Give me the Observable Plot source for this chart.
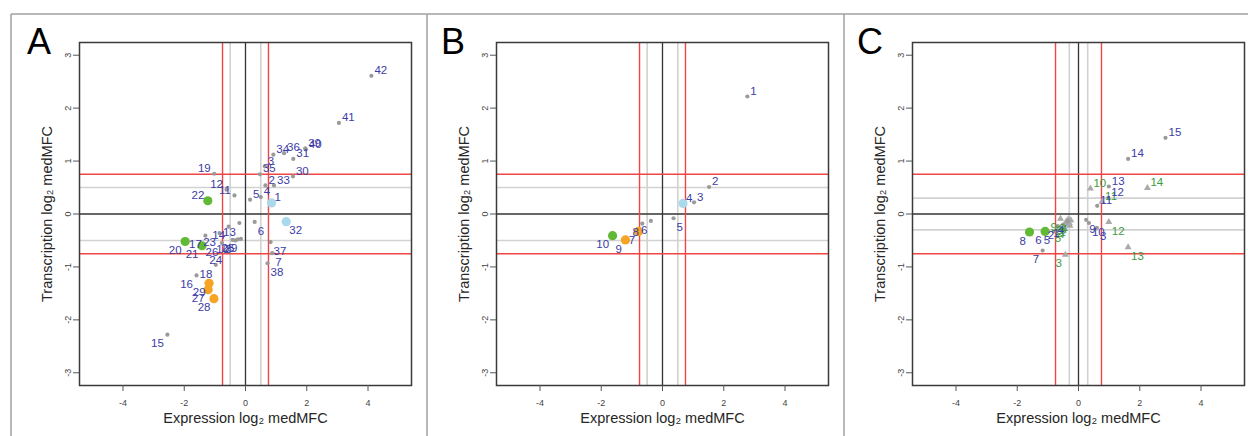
<!DOCTYPE html>
<html>
<head>
<meta charset="utf-8">
<script src="https://cdn.jsdelivr.net/npm/d3@7"></script>
<script src="https://cdn.jsdelivr.net/npm/@observablehq/plot@0.6"></script>
<style>
  html, body { margin: 0; padding: 0; background: #fff; }
  #fig { position: relative; width: 1248px; height: 436px; overflow: hidden; font-family: "Liberation Sans", Arial, sans-serif; }
  .panel { position: absolute; top: 0; }
  #overlay { position: absolute; left: 0; top: 0; pointer-events: none; }
</style>
</head>
<body>
<div id="fig">
  <div class="panel" id="pA" style="left:-1px"></div>
  <div class="panel" id="pB" style="left:416px"></div>
  <div class="panel" id="pC" style="left:832px"></div>
  <svg id="overlay" width="1248" height="436">
    <g stroke="#a0a0a0" stroke-width="1.5" fill="none">
      <line x1="11" y1="14" x2="1248" y2="14"></line>
      <line x1="11" y1="14" x2="11" y2="436"></line>
      <line x1="427" y1="14" x2="427" y2="436"></line>
      <line x1="844" y1="14" x2="844" y2="436"></line>
    </g>
    <g font-family="Liberation Sans, Arial, sans-serif" font-size="36" fill="#000">
      <text x="27" y="53.5">A</text>
      <text x="441" y="53.5">B</text>
      <text x="857" y="53.5">C</text>
    </g>
  </svg>
</div>
<script>
// ---------- axis ticks ----------
const xTicks = [-4, -2, 0, 2, 4];
const yTicks = [-3, -2, -1, 0, 1, 2, 3];

// ---------- cut-off lines ----------
const redCut = 0.75;
const grayCutAB = 0.5;
const grayCutC = 0.3;

// ---------- Panel A ----------
const aLabel = [1,2,3,4,5,6,7,8,9,10,11,12,13,14,15,16,17,18,19,20,21,22,23,24,25,26,27,28,29,30,31,32,33,34,35,36,37,38,39,40,41,42];
const aX = [0.85,0.65,0.63,0.50,0.15,0.30,0.87,-0.33,-0.15,-0.42,-0.36,-0.62,-0.20,-0.55,-2.55,-1.60,-1.31,-0.97,-1.02,-1.97,-1.42,-1.23,-0.85,-0.65,-0.25,-0.77,-1.22,-1.03,-1.19,1.55,1.56,1.33,0.93,0.91,0.47,1.26,0.82,0.72,1.95,1.97,3.05,4.11];
const aY = [0.21,0.54,0.90,0.32,0.27,-0.15,-0.74,-0.50,-0.47,-0.49,0.35,0.46,-0.17,-0.24,-2.28,-1.16,-0.41,-0.96,0.76,-0.52,-0.60,0.25,-0.36,-0.71,-0.48,-0.55,-1.43,-1.60,-1.31,0.71,1.04,-0.145,0.54,1.12,0.75,1.15,-0.53,-0.93,1.24,1.22,1.72,2.61];
const aClass = ["lightblue","ns","ns","ns","ns","ns","ns","ns","ns","ns","ns","ns","ns","ns","ns","ns","ns","ns","ns","green","green","green","ns","ns","ns","ns","orange","orange","orange","ns","ns","lightblue","ns","ns","ns","ns","ns","ns","ns","ns","ns","ns"];

// ---------- Panel B ----------
const bLabel = [1,2,3,4,5,6,7,8,9,10];
const bX = [2.77,1.52,1.03,0.67,0.36,-0.38,-0.78,-0.66,-1.21,-1.63];
const bY = [2.22,0.51,0.22,0.20,-0.08,-0.13,-0.33,-0.18,-0.49,-0.41];
const bClass = ["ns","ns","ns","lightblue","ns","ns","orange","ns","orange","green"];

// ---------- Panel C (circles, blue labels) ----------
const cLabel = [1,2,3,4,5,6,7,8,9,10,11,12,13,14,15];
const cX = [-0.50,-0.68,0.60,-0.35,-0.81,-1.09,-1.17,-1.60,0.25,0.34,0.61,0.97,0.99,1.62,2.84];
const cY = [-0.20,-0.23,-0.26,-0.14,-0.33,-0.33,-0.69,-0.34,-0.11,-0.17,0.155,0.30,0.52,1.04,1.44];
const cClass = ["ns","ns","ns","ns","ns","green","ns","green","ns","ns","ns","ns","ns","ns","ns"];

// ---------- Panel C (triangles, green labels) ----------
const tLabel = [1,2,3,4,5,6,7,8,9,10,11,12,13,14];
const tX = [-0.30,-0.38,-0.43,-0.25,-0.45,-0.33,-0.28,-0.40,-0.59,0.39,0.77,0.99,1.62,2.25];
const tY = [-0.17,-0.20,-0.77,-0.12,-0.28,-0.10,-0.22,-0.14,-0.09,0.48,0.23,-0.15,-0.63,0.49];

const classColor = {lightblue: "#a9d9ea", green: "#62b935", orange: "#f7a323"};
const blueText = "#3c3ca6";
const greenText = "#3d9a3d";

function rows(labels, xs, ys, cls) {
  return labels.map((l, i) => ({label: String(l), x: xs[i], y: ys[i], cls: cls ? cls[i] : "ns"}));
}

function labelMarks(data, fill) {
  const common = {x: "x", y: "y", text: "label", fill, fontSize: 11.5, fontFamily: "Liberation Sans, Arial, sans-serif"};
  return [
    Plot.text(data.filter(d => d.x >= 0 && d.y >= 0), {...common, textAnchor: "start", dx: 3, dy: -5.5}),
    Plot.text(data.filter(d => d.x < 0 && d.y >= 0), {...common, textAnchor: "end", dx: -3.5, dy: -5.5}),
    Plot.text(data.filter(d => d.x >= 0 && d.y < 0), {...common, textAnchor: "start", dx: 3, dy: 9}),
    Plot.text(data.filter(d => d.x < 0 && d.y < 0), {...common, textAnchor: "end", dx: -3.5, dy: 9})
  ];
}

function panel(grayCut, circles, triangles) {
  const marks = [
    Plot.ruleX([-grayCut, grayCut], {stroke: "#d2d2d2", strokeWidth: 1.6}),
    Plot.ruleY([-grayCut, grayCut], {stroke: "#d2d2d2", strokeWidth: 1.6}),
    Plot.ruleX([0], {stroke: "#333", strokeWidth: 1.3}),
    Plot.ruleY([0], {stroke: "#333", strokeWidth: 1.3}),
    Plot.ruleX([-redCut, redCut], {stroke: "#f04545", strokeWidth: 1.4}),
    Plot.ruleY([-redCut, redCut], {stroke: "#f04545", strokeWidth: 1.4}),
  ];
  if (triangles) {
    marks.push(Plot.dot(triangles, {x: "x", y: "y", symbol: "triangle", r: 2.6, fill: "#aaaaaa", stroke: "none"}));
  }
  marks.push(Plot.dot(circles.filter(d => d.cls === "ns"), {x: "x", y: "y", r: 2.1, fill: "#9a9a9a", stroke: "none"}));
  marks.push(Plot.dot(circles.filter(d => d.cls !== "ns"), {x: "x", y: "y", r: 4.6, fill: d => classColor[d.cls], stroke: "none"}));
  if (triangles) marks.push(...labelMarks(triangles, greenText));
  marks.push(...labelMarks(circles, blueText));
  marks.push(
    Plot.frame({stroke: "#3a3a3a", strokeWidth: 1.5}),
    Plot.axisX({ticks: xTicks, tickSize: 6, tickPadding: 8, tickFormat: d => String(d), fontSize: 9, fill: "#444", stroke: "#555", label: null}),
    Plot.axisY({ticks: yTicks, tickSize: 6, tickPadding: 3, tickRotate: -90, tickFormat: d => String(d), fontSize: 9, fill: "#444", stroke: "#555", label: null}),
    Plot.text(["Expression log₂ medMFC"], {text: d => d, frameAnchor: "bottom", textAnchor: "middle", dy: 37, fontSize: 14.5, fill: "#262626"}),
    Plot.text(["Transcription log₂ medMFC"], {text: d => d, frameAnchor: "left", textAnchor: "middle", dx: -32, rotate: -90, fontSize: 14.5, fill: "#262626"})
  );
  return Plot.plot({
    width: 416,
    height: 436,
    marginLeft: 80,
    marginRight: 4,
    marginTop: 42,
    marginBottom: 51,
    x: {domain: [-5.42, 5.42]},
    y: {domain: [-3.24, 3.24]},
    style: {fontFamily: "Liberation Sans, Arial, sans-serif", background: "transparent", overflow: "visible"},
    marks
  });
}

document.getElementById("pA").appendChild(panel(grayCutAB, rows(aLabel, aX, aY, aClass)));
document.getElementById("pB").appendChild(panel(grayCutAB, rows(bLabel, bX, bY, bClass)));
document.getElementById("pC").appendChild(panel(grayCutC, rows(cLabel, cX, cY, cClass), rows(tLabel, tX, tY)));
</script>
</body>
</html>
